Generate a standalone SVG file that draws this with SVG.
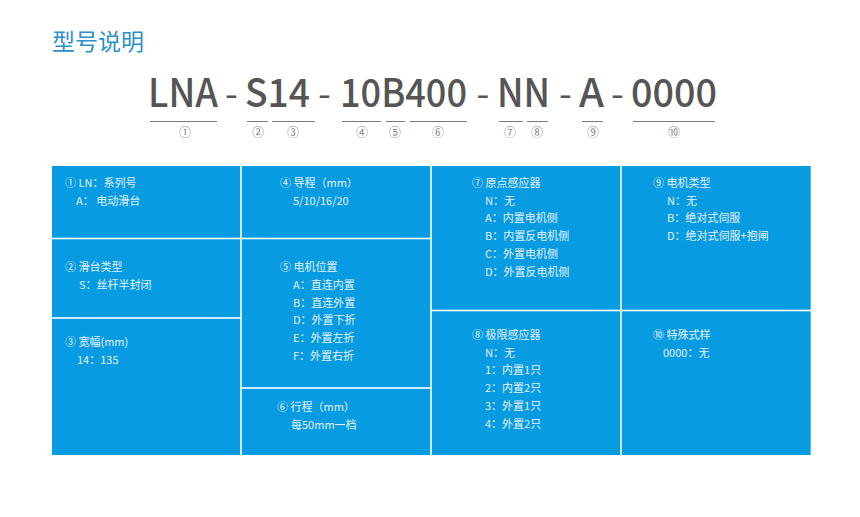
<svg xmlns="http://www.w3.org/2000/svg" width="860" height="517" viewBox="0 0 860 517">
<style>
.bg{fill:#ffffff}
.cell{fill:#079be2}
.title{font-family:"Noto Sans CJK SC","Noto Sans",sans-serif;font-size:23px;fill:#2b8fcb}
.code{font-family:"Noto Sans CJK SC","Noto Sans",sans-serif;font-size:39px;font-weight:500;fill:#555555}
.hy{font-weight:400;font-size:37px}
.ul{stroke:#7a7a7a;stroke-width:1}
.num{font-family:"Noto Sans CJK SC","DejaVu Sans",sans-serif;font-size:12px;fill:#888888;text-anchor:middle}
.t{font-family:"Noto Sans CJK SC","Noto Sans",sans-serif;font-size:11px;fill:#e3f2fc}
</style>
<rect class="bg" x="0" y="0" width="860" height="517"/>
<text class="title" x="52" y="50">型号说明</text>

<g id="code">
<text class="code" y="107"><tspan x="148" textLength="70" lengthAdjust="spacingAndGlyphs">LNA</tspan><tspan class="hy" x="225">-</tspan><tspan x="245" textLength="65" lengthAdjust="spacingAndGlyphs">S14</tspan><tspan class="hy" x="318">-</tspan><tspan x="340" textLength="127" lengthAdjust="spacingAndGlyphs">10B400</tspan><tspan class="hy" x="476.5">-</tspan><tspan x="497" textLength="53" lengthAdjust="spacingAndGlyphs">NN</tspan><tspan class="hy" x="559">-</tspan><tspan x="579" textLength="25" lengthAdjust="spacingAndGlyphs">A</tspan><tspan class="hy" x="611">-</tspan><tspan x="631" textLength="86" lengthAdjust="spacingAndGlyphs">0000</tspan></text>
<g id="underlines">
<line class="ul" x1="150" y1="121.5" x2="217" y2="121.5"/>
<line class="ul" x1="247" y1="121.5" x2="268" y2="121.5"/>
<line class="ul" x1="272" y1="121.5" x2="315" y2="121.5"/>
<line class="ul" x1="342" y1="121.5" x2="381" y2="121.5"/>
<line class="ul" x1="386" y1="121.5" x2="405" y2="121.5"/>
<line class="ul" x1="410" y1="121.5" x2="467" y2="121.5"/>
<line class="ul" x1="499" y1="121.5" x2="523" y2="121.5"/>
<line class="ul" x1="527" y1="121.5" x2="548" y2="121.5"/>
<line class="ul" x1="582" y1="121.5" x2="603" y2="121.5"/>
<line class="ul" x1="633" y1="121.5" x2="715" y2="121.5"/>
</g>
<text class="num" x="185" y="137">①</text>
<text class="num" x="258" y="137">②</text>
<text class="num" x="293" y="137">③</text>
<text class="num" x="362" y="137">④</text>
<text class="num" x="395" y="137">⑤</text>
<text class="num" x="438" y="137">⑥</text>
<text class="num" x="510" y="137">⑦</text>
<text class="num" x="537" y="137">⑧</text>
<text class="num" x="593" y="137">⑨</text>
<text class="num" x="674" y="137">⑩</text>
</g>

<g id="cell1">
<rect class="cell" x="52" y="166" width="188.2" height="71.7"/>
<text class="t" x="65" y="187">① LN：系列号</text>
<text class="t" x="76" y="205">A： 电动滑台</text>
</g>
<g id="cell2">
<rect class="cell" x="52" y="239.3" width="188.2" height="77.9"/>
<text class="t" x="65" y="271">② 滑台类型</text>
<text class="t" x="79" y="289">S：丝杆半封闭</text>
</g>
<g id="cell3">
<rect class="cell" x="52" y="318.8" width="188.2" height="136.2"/>
<text class="t" x="65" y="346">③ 宽幅(mm)</text>
<text class="t" x="77" y="364">14：135</text>
</g>
<g id="cell4">
<rect class="cell" x="241.8" y="166" width="188.4" height="71.7"/>
<text class="t" x="280" y="187">④ 导程（mm）</text>
<text class="t" x="293" y="205">5/10/16/20</text>
</g>
<g id="cell5">
<rect class="cell" x="241.8" y="239.3" width="188.4" height="147.9"/>
<text class="t" x="280" y="271">⑤ 电机位置</text>
<text class="t" x="293" y="289">A：直连内置</text>
<text class="t" x="293" y="307">B：直连外置</text>
<text class="t" x="293" y="324">D：外置下折</text>
<text class="t" x="293" y="342">E：外置左折</text>
<text class="t" x="293" y="360">F：外置右折</text>
</g>
<g id="cell6">
<rect class="cell" x="241.8" y="388.8" width="188.4" height="66.2"/>
<text class="t" x="277" y="411">⑥ 行程（mm）</text>
<text class="t" x="291" y="429">每50mm一档</text>
</g>
<g id="cell7">
<rect class="cell" x="431.8" y="166" width="188.4" height="143.7"/>
<text class="t" x="472" y="187">⑦ 原点感应器</text>
<text class="t" x="485" y="205">N：无</text>
<text class="t" x="485" y="222">A：内置电机侧</text>
<text class="t" x="485" y="240">B：内置反电机侧</text>
<text class="t" x="485" y="258">C：外置电机侧</text>
<text class="t" x="485" y="276">D：外置反电机侧</text>
</g>
<g id="cell8">
<rect class="cell" x="431.8" y="311.3" width="188.4" height="143.7"/>
<text class="t" x="472" y="339">⑧ 极限感应器</text>
<text class="t" x="485" y="357">N：无</text>
<text class="t" x="485" y="374">1：内置1只</text>
<text class="t" x="485" y="392">2：内置2只</text>
<text class="t" x="485" y="410">3：外置1只</text>
<text class="t" x="485" y="428">4：外置2只</text>
</g>
<g id="cell9">
<rect class="cell" x="621.8" y="166" width="188.9" height="143.7"/>
<text class="t" x="653" y="187">⑨ 电机类型</text>
<text class="t" x="667" y="205">N：无</text>
<text class="t" x="667" y="222">B：绝对式伺服</text>
<text class="t" x="667" y="240">D：绝对式伺服+抱闸</text>
</g>
<g id="cell10">
<rect class="cell" x="621.8" y="311.3" width="188.9" height="143.7"/>
<text class="t" x="653" y="339">⑩ 特殊式样</text>
<text class="t" x="663" y="357">0000：无</text>
</g>
</svg>
